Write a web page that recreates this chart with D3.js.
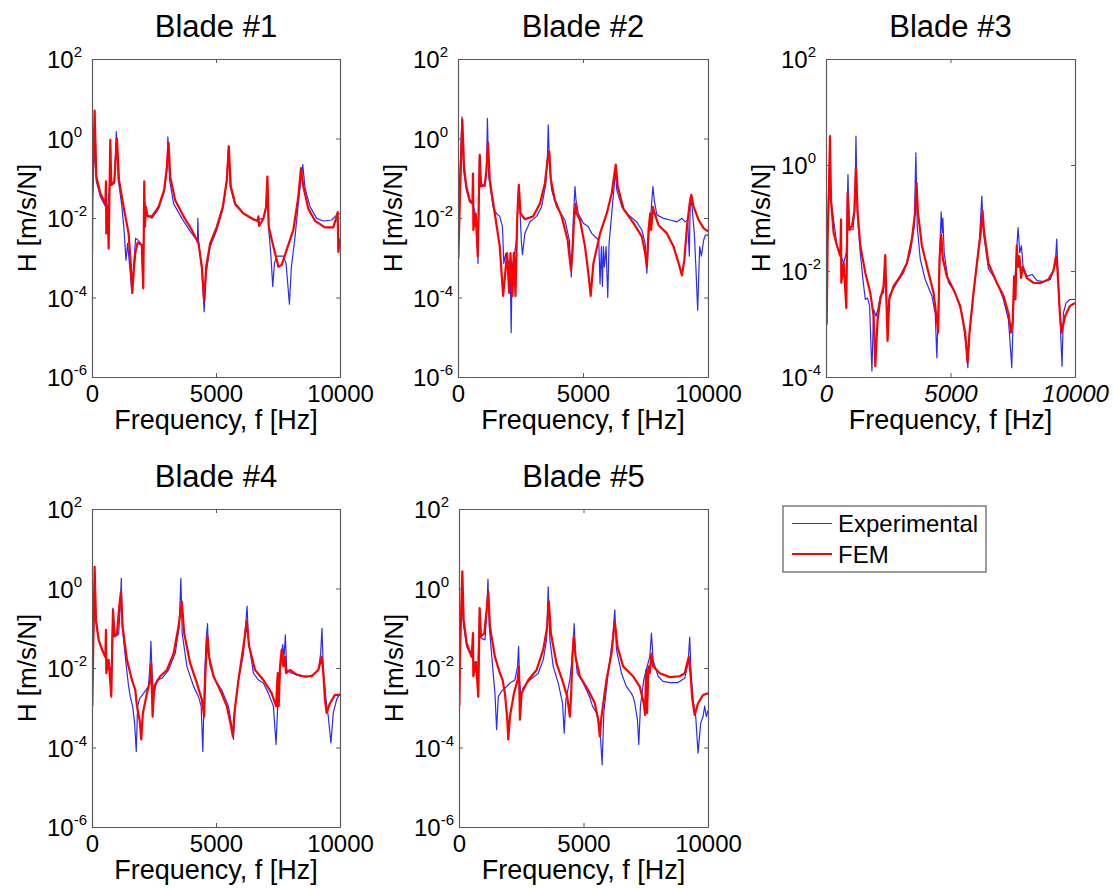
<!DOCTYPE html>
<html>
<head>
<meta charset="utf-8">
<script src="https://cdn.jsdelivr.net/npm/d3@7"></script>
<style>
body { margin: 0; background: #fff; }
svg { font-family: "Liberation Sans", Arial, Helvetica, sans-serif; }
</style>
</head>
<body>
<div id="chart"></div>
<script>
// ---- data: [frequency Hz, H m/s/N] ----
const bladeTitles = ["Blade #1", "Blade #2", "Blade #3", "Blade #4", "Blade #5"];
const seriesNames = ["Experimental", "FEM"];
const xTickValues = [0, 5000, 10000];
const yTickValues = [1e2, 1e0, 1e-2, 1e-4, 1e-6];
const yMinByBlade = [1e-6, 1e-6, 1e-4, 1e-6, 1e-6];

const blade1Exp = [[0,1.5e-2],[94,0.63],[174,8.3e-2],[335,3.5e-2],[550,1.9e-2],[604,1.3e-2],[711,6.2e-2],[752,0.19],[792,6.8e-2],[899,7.4e-2],[980,1.5],[1060,9.1e-2],[1208,1.9e-2],[1302,4.1e-3],[1369,8.7e-4],[1436,2.3e-3],[1543,4.1e-4],[1610,1.3e-4],[1678,5.9e-4],[1758,3.1e-3],[1879,2.7e-3],[2000,2.1e-3],[2053,1.9e-4],[2107,2.8e-2],[2214,1.2e-2],[2416,9.8e-3],[2684,1.7e-2],[2912,4.6e-2],[3020,0.16],[3060,1.1],[3128,9.1e-2],[3289,2.3e-2],[3624,9.8e-3],[3960,4.6e-3],[4161,3.1e-3],[4255,2.8e-3],[4268,9.8e-3],[4295,2.8e-3],[4429,4.9e-4],[4523,4.4e-5],[4603,4.1e-4],[4764,1.9e-3],[5033,5.0e-3],[5275,1.7e-2],[5436,8.3e-2],[5503,0.66],[5570,6.2e-2],[5772,2.1e-2],[6107,1.3e-2],[6510,8.9e-3],[6913,9.8e-3],[7020,1.9e-2],[7060,8.3e-2],[7127,5.0e-3],[7208,1.3e-3],[7289,1.9e-4],[7356,7.2e-4],[7450,1.1e-3],[7718,1.1e-3],[7825,7.2e-4],[7960,6.8e-5],[8040,5.9e-4],[8188,3.4e-3],[8349,3.5e-2],[8497,0.22],[8591,5.6e-2],[8792,1.9e-2],[9060,9.8e-3],[9329,8.4e-3],[9664,8.9e-3],[9866,1.2e-2],[10000,1.3e-2]];
const blade1Fem = [[0,1.3e-3],[13,2.8e-2],[107,5.0],[174,0.11],[335,4.2e-2],[537,2.3e-2],[564,8.3e-2],[577,4.1e-3],[631,1.9e-2],[671,1.7e-3],[738,0.93],[778,6.8e-2],[899,8.3e-2],[1007,1.0],[1087,9.1e-2],[1275,1.9e-2],[1476,4.1e-3],[1570,5.9e-4],[1624,1.3e-4],[1678,4.1e-4],[1745,1.3e-3],[1839,2.4e-3],[2013,2.1e-3],[2067,1.7e-4],[2107,8.3e-2],[2134,6.0e-3],[2174,1.9e-2],[2241,1.1e-2],[2416,1.1e-2],[2684,1.9e-2],[2912,5.1e-2],[3020,0.19],[3087,0.79],[3154,0.11],[3355,2.8e-2],[3691,1.1e-2],[4026,5.0e-3],[4294,2.3e-3],[4429,5.9e-4],[4523,8.5e-5],[4603,5.9e-4],[4764,2.3e-3],[5033,6.0e-3],[5275,1.9e-2],[5436,9.1e-2],[5517,0.63],[5597,6.2e-2],[5772,2.3e-2],[6107,1.3e-2],[6510,9.3e-3],[6685,8.4e-3],[6711,1.1e-2],[6738,6.3e-3],[6913,9.8e-3],[7020,1.9e-2],[7073,0.11],[7127,6.0e-3],[7315,1.9e-3],[7516,5.9e-4],[7650,6.6e-4],[7851,1.6e-3],[8119,5.0e-3],[8320,3.5e-2],[8428,0.18],[8522,6.2e-2],[8723,1.7e-2],[8992,8.5e-3],[9394,5.8e-3],[9732,5.8e-3],[9866,1.1e-2],[9906,1.4e-2],[9933,1.4e-3],[10000,3.1e-3]];

const blade2Exp = [[40,2.8e-2],[107,0.51],[160,3.5],[227,0.16],[334,5.1e-2],[468,2.5e-2],[602,2.3e-2],[682,1.3e-2],[762,4.1e-3],[802,7.2e-4],[856,0.35],[923,7.4e-2],[1070,6.2e-2],[1136,0.13],[1177,3.2],[1230,0.11],[1404,1.9e-2],[1538,1.3e-2],[1671,1.1e-2],[1778,6.0e-3],[1832,7.2e-4],[1912,1.3e-3],[1965,5.9e-4],[2046,8.7e-4],[2099,1.9e-4],[2126,1.3e-5],[2166,5.9e-4],[2246,1.1e-3],[2340,2.8e-3],[2420,5.1e-2],[2473,1.9e-2],[2540,2.3e-3],[2580,1.2e-3],[2674,4.1e-3],[2875,7.9e-3],[3142,1.1e-2],[3343,1.9e-2],[3516,7.4e-2],[3583,0.43],[3610,2.2],[3663,0.19],[3744,5.1e-2],[3944,1.9e-2],[4278,8.9e-3],[4452,2.8e-3],[4532,3.3e-4],[4613,8.9e-3],[4680,6.2e-2],[4720,2.8e-2],[4813,1.3e-2],[5014,7.4e-3],[5214,6.0e-3],[5348,4.1e-3],[5549,3.1e-3],[5629,2.8e-3],[5682,2.2e-4],[5736,1.9e-3],[5776,1.9e-4],[5816,1.9e-3],[5856,5.9e-4],[5923,1.9e-3],[5990,1.0e-4],[6043,2.3e-3],[6150,1.3e-2],[6244,6.2e-2],[6297,0.16],[6351,5.1e-2],[6551,1.9e-2],[6819,1.2e-2],[7153,7.9e-3],[7354,5.0e-3],[7487,2.3e-3],[7554,4.1e-4],[7634,4.1e-3],[7715,1.3e-2],[7795,6.2e-2],[7849,2.8e-2],[7955,1.2e-2],[8223,9.8e-3],[8490,8.9e-3],[8758,8.0e-3],[8959,9.8e-3],[9093,8.0e-3],[9186,8.9e-3],[9253,1.1e-3],[9293,3.4e-2],[9360,1.9e-2],[9453,4.1e-3],[9520,4.9e-4],[9587,4.8e-5],[9667,1.9e-3],[9734,1.1e-3],[9828,2.8e-3],[9894,3.7e-3],[10000,3.7e-3]];
const blade2Fem = [[13,9.5e-4],[94,7.4e-2],[174,3.0],[241,0.19],[334,6.2e-2],[468,2.8e-2],[575,2.3e-2],[602,0.13],[615,5.0e-3],[709,1.3e-2],[789,1.1e-3],[869,0.39],[923,6.2e-2],[1070,6.8e-2],[1136,0.16],[1203,0.79],[1270,9.1e-2],[1471,1.3e-2],[1671,1.9e-3],[1805,1.1e-4],[1912,5.9e-4],[1965,1.3e-3],[2046,1.3e-4],[2099,1.3e-3],[2179,1.1e-4],[2233,1.3e-3],[2300,1.1e-4],[2366,8.9e-3],[2433,6.8e-2],[2500,1.3e-2],[2674,9.3e-3],[3008,1.1e-2],[3276,2.3e-2],[3476,7.4e-2],[3583,0.29],[3650,0.47],[3717,9.1e-2],[3877,2.8e-2],[4145,1.1e-2],[4385,2.8e-3],[4519,4.9e-4],[4586,1.6e-3],[4639,8.9e-3],[4706,2.3e-2],[4746,1.3e-2],[4880,8.9e-3],[5081,1.9e-3],[5214,4.1e-4],[5308,1.1e-4],[5415,7.2e-4],[5682,4.1e-3],[5950,1.3e-2],[6150,4.2e-2],[6257,0.13],[6311,0.22],[6391,6.2e-2],[6618,1.7e-2],[7019,7.4e-3],[7354,3.4e-3],[7487,1.3e-3],[7554,5.9e-4],[7621,5.0e-3],[7688,1.3e-2],[7728,5.0e-3],[7795,1.9e-2],[7849,1.4e-2],[8022,6.6e-3],[8357,4.1e-3],[8624,1.9e-3],[8825,7.2e-4],[8959,3.6e-4],[9052,8.7e-4],[9159,6.0e-3],[9266,2.3e-2],[9333,3.8e-2],[9426,1.9e-2],[9627,8.9e-3],[9828,5.5e-3],[10000,4.6e-3]];

const blade3Exp = [[67,5.2e-2],[147,1.5],[200,0.22],[441,3.0e-2],[709,1.4e-2],[816,2.2e-2],[882,0.66],[936,6.0e-2],[1083,6.0e-2],[1163,0.17],[1203,3.5],[1257,0.13],[1377,2.2e-2],[1484,6.9e-3],[1578,2.9e-3],[1671,3.1e-3],[1751,2.2e-3],[1805,3.9e-4],[1845,1.3e-4],[1912,1.9e-3],[2005,1.4e-3],[2086,1.9e-3],[2179,3.4e-3],[2313,3.9e-3],[2366,1.4e-2],[2420,2.9e-3],[2473,1.2e-3],[2540,3.4e-3],[2848,6.0e-3],[3115,9.3e-3],[3383,2.2e-2],[3543,6.9e-2],[3610,1.7],[3663,6.9e-2],[3784,1.7e-2],[3984,6.9e-3],[4252,3.4e-3],[4385,1.6e-3],[4452,2.3e-4],[4519,2.9e-3],[4586,4.0e-2],[4626,0.13],[4666,5.3e-2],[4693,0.10],[4746,2.2e-2],[4920,6.0e-3],[5188,3.9e-3],[5455,1.6e-3],[5629,3.9e-4],[5696,1.5e-4],[5763,6.9e-4],[5990,6.9e-3],[6164,4.0e-2],[6257,0.26],[6324,5.3e-2],[6524,1.1e-2],[6725,7.9e-3],[6925,5.2e-3],[7126,2.9e-3],[7327,1.2e-3],[7420,2.9e-4],[7460,1.5e-4],[7541,2.9e-3],[7648,2.2e-2],[7715,6.6e-2],[7781,2.2e-2],[7848,3.0e-2],[7915,1.2e-2],[8075,7.9e-3],[8276,8.6e-3],[8476,6.6e-3],[8744,6.3e-3],[9011,6.9e-3],[9212,1.4e-2],[9266,4.0e-2],[9333,6.0e-3],[9400,1.2e-3],[9480,1.6e-4],[9533,1.6e-3],[9640,2.5e-3],[9800,2.9e-3],[10000,2.9e-3]];
const blade3Fem = [[27,9.8e-4],[67,4.0e-2],[120,0.40],[160,3.5],[200,0.22],[307,5.2e-2],[441,3.0e-2],[575,1.9e-2],[602,9.3e-2],[615,6.0e-3],[709,1.4e-2],[816,2.0e-3],[869,0.30],[936,6.0e-2],[1043,7.0e-2],[1136,0.13],[1203,0.89],[1270,0.13],[1377,3.0e-2],[1578,9.3e-3],[1778,3.9e-3],[1912,1.4e-3],[1979,1.6e-4],[2072,1.2e-3],[2179,2.9e-3],[2313,5.2e-3],[2380,2.0e-2],[2420,3.9e-3],[2473,4.8e-4],[2540,2.9e-3],[2714,5.2e-3],[2981,7.9e-3],[3249,1.4e-2],[3449,4.0e-2],[3583,0.13],[3637,0.46],[3690,0.13],[3851,3.0e-2],[4118,9.3e-3],[4319,3.9e-3],[4452,1.2e-3],[4506,6.9e-4],[4559,1.7e-2],[4626,4.9e-2],[4693,1.7e-2],[4853,7.9e-3],[5121,4.5e-3],[5388,2.2e-3],[5589,6.9e-4],[5682,1.9e-4],[5763,6.9e-4],[5923,3.9e-3],[6083,1.7e-2],[6217,5.3e-2],[6284,0.14],[6351,5.3e-2],[6524,1.4e-2],[6858,6.0e-3],[7126,3.4e-3],[7327,1.6e-3],[7434,6.9e-4],[7501,1.2e-3],[7554,7.9e-3],[7608,2.9e-3],[7661,3.0e-2],[7714,1.2e-2],[7768,1.9e-2],[7835,7.4e-3],[7901,1.2e-2],[8062,7.4e-3],[8329,6.0e-3],[8597,5.9e-3],[8931,6.9e-3],[9132,1.0e-2],[9239,1.9e-2],[9293,1.1e-2],[9400,1.4e-3],[9466,6.9e-4],[9600,1.4e-3],[9801,2.2e-3],[10000,2.5e-3]];

const blade4Exp = [[40,1.9e-2],[94,0.51],[148,0.16],[268,5.1e-2],[537,1.9e-2],[671,1.4e-2],[778,7.4e-3],[845,0.32],[913,6.2e-2],[1074,7.0e-2],[1141,0.36],[1181,1.8],[1221,0.11],[1382,1.1e-2],[1476,3.5e-3],[1543,1.9e-3],[1637,1.1e-3],[1718,4.1e-4],[1785,7.9e-5],[1839,1.1e-3],[1919,1.7e-3],[2080,2.3e-3],[2281,3.5e-3],[2349,1.6e-2],[2375,4.7e-2],[2416,8.9e-3],[2483,1.9e-3],[2617,5.0e-3],[2818,5.5e-3],[3087,8.9e-3],[3355,2.3e-2],[3516,0.11],[3583,1.8],[3637,7.5e-2],[3825,1.1e-2],[4093,3.5e-3],[4294,1.9e-3],[4402,1.1e-3],[4469,7.9e-5],[4536,5.0e-3],[4603,5.1e-2],[4657,0.13],[4697,2.9e-2],[4764,1.1e-2],[4966,5.0e-3],[5234,2.8e-3],[5502,1.1e-3],[5637,3.4e-4],[5704,1.6e-4],[5771,1.1e-3],[5905,5.0e-3],[6106,2.3e-2],[6254,0.36],[6307,5.1e-2],[6509,7.4e-3],[6710,5.0e-3],[6911,4.2e-3],[7113,2.3e-3],[7314,1.1e-3],[7421,1.2e-4],[7488,1.1e-3],[7582,7.4e-3],[7689,3.9e-2],[7743,1.9e-2],[7797,6.8e-2],[7851,8.9e-3],[8052,7.4e-3],[8388,6.3e-3],[8656,5.9e-3],[8924,6.8e-3],[9126,8.9e-3],[9220,2.3e-2],[9273,0.10],[9327,8.9e-3],[9435,1.6e-3],[9528,6.0e-4],[9635,1.3e-4],[9729,7.4e-4],[9864,1.6e-3],[10000,2.3e-3]];
const blade4Fem = [[13,1.1e-3],[54,5.1e-2],[107,3.5],[161,0.16],[268,5.1e-2],[403,2.9e-2],[537,1.9e-2],[564,9.1e-2],[577,7.4e-3],[671,1.6e-2],[778,1.9e-3],[845,0.29],[913,6.2e-2],[1007,7.5e-2],[1100,0.36],[1168,0.83],[1235,0.11],[1409,1.6e-2],[1610,5.0e-3],[1745,2.8e-3],[1812,1.1e-3],[1919,5.0e-4],[1986,1.6e-4],[2053,7.4e-4],[2214,2.3e-3],[2349,5.0e-3],[2389,1.3e-2],[2443,6.0e-4],[2510,3.5e-3],[2751,6.2e-3],[3020,8.9e-3],[3288,2.3e-2],[3489,0.11],[3623,0.47],[3717,7.5e-2],[3959,1.3e-2],[4227,4.2e-3],[4429,1.6e-3],[4523,6.0e-4],[4563,5.0e-3],[4603,1.9e-2],[4657,6.2e-2],[4724,1.9e-2],[4898,6.2e-3],[5167,2.8e-3],[5435,1.1e-3],[5610,3.4e-4],[5677,1.9e-4],[5744,7.4e-4],[5905,5.0e-3],[6106,3.5e-2],[6240,0.15],[6334,3.5e-2],[6576,8.9e-3],[6911,5.0e-3],[7247,2.3e-3],[7421,1.1e-3],[7488,7.4e-3],[7529,1.1e-3],[7582,1.1e-2],[7649,2.9e-2],[7716,1.1e-2],[7783,1.9e-2],[7824,7.4e-3],[7985,8.9e-3],[8253,6.8e-3],[8522,6.2e-3],[8857,6.2e-3],[9126,8.9e-3],[9260,1.9e-2],[9327,7.4e-3],[9394,1.6e-3],[9461,7.4e-4],[9595,1.3e-3],[9797,2.1e-3],[10000,2.1e-3]];

const blade5Exp = [[40,1.9e-2],[107,0.51],[174,0.13],[308,3.5e-2],[508,1.9e-2],[642,1.3e-2],[749,7.4e-3],[829,0.29],[882,5.6e-2],[1043,5.1e-2],[1110,0.24],[1163,1.7],[1217,0.11],[1350,1.1e-2],[1444,2.3e-3],[1511,2.8e-4],[1578,1.9e-3],[1711,2.6e-3],[1845,3.1e-3],[2046,4.2e-3],[2246,5.0e-3],[2353,1.1e-2],[2393,3.5e-2],[2433,5.0e-3],[2487,1.9e-3],[2580,3.2e-3],[2848,5.0e-3],[3182,7.4e-3],[3383,1.6e-2],[3516,5.1e-2],[3583,1.1],[3650,5.1e-2],[3784,1.1e-2],[3984,4.2e-3],[4158,1.3e-3],[4225,2.3e-4],[4292,1.6e-3],[4452,5.0e-3],[4559,2.3e-2],[4626,0.13],[4680,2.3e-2],[4746,7.4e-3],[4987,4.2e-3],[5254,1.8e-3],[5361,1.1e-3],[5522,7.4e-4],[5656,3.4e-4],[5749,3.7e-5],[5816,7.4e-4],[5990,7.4e-3],[6164,5.1e-2],[6257,0.29],[6324,2.9e-2],[6524,7.4e-3],[6725,3.4e-3],[6925,2.3e-3],[6993,1.9e-3],[7059,1.3e-3],[7166,5.0e-4],[7220,1.2e-4],[7287,1.1e-3],[7420,5.0e-3],[7554,1.1e-2],[7661,1.9e-2],[7728,7.5e-2],[7795,1.6e-2],[7995,6.2e-3],[8196,4.6e-3],[8463,4.3e-3],[8797,4.3e-3],[9065,5.5e-3],[9199,1.3e-2],[9266,6.0e-2],[9320,7.4e-3],[9400,1.6e-3],[9507,6.0e-4],[9600,7.2e-5],[9707,4.1e-4],[9800,6.0e-4],[9867,1.1e-3],[9933,6.0e-4],[10000,8.6e-4]];
const blade5Fem = [[13,1.1e-3],[53,5.1e-2],[134,2.7],[187,0.16],[308,4.2e-2],[508,1.9e-2],[562,7.5e-2],[575,6.2e-3],[682,1.4e-2],[775,1.9e-3],[829,0.32],[882,6.2e-2],[1016,7.5e-2],[1110,0.29],[1177,0.83],[1243,0.11],[1444,1.9e-2],[1644,7.4e-3],[1751,5.0e-3],[1845,2.3e-3],[1939,5.0e-4],[1979,1.6e-4],[2046,6.0e-4],[2206,2.3e-3],[2353,5.0e-3],[2407,1.1e-2],[2447,5.0e-4],[2514,2.3e-3],[2781,5.0e-3],[3115,8.9e-3],[3383,2.9e-2],[3543,0.11],[3610,0.47],[3690,7.5e-2],[3917,1.3e-2],[4185,4.2e-3],[4345,1.9e-3],[4452,6.0e-4],[4506,2.3e-3],[4559,2.3e-2],[4613,6.2e-2],[4680,1.9e-2],[4853,6.2e-3],[5188,2.8e-3],[5455,1.3e-3],[5589,5.0e-4],[5656,1.9e-4],[5722,6.0e-4],[5923,5.0e-3],[6124,2.3e-2],[6257,0.15],[6364,3.5e-2],[6591,1.1e-2],[6993,6.2e-3],[7260,3.4e-3],[7420,1.3e-3],[7473,6.6e-4],[7513,8.9e-3],[7554,7.4e-4],[7607,1.1e-2],[7661,7.4e-3],[7728,2.3e-2],[7795,1.1e-2],[8062,7.4e-3],[8463,5.9e-3],[8864,6.2e-3],[9065,7.4e-3],[9226,1.9e-2],[9293,7.4e-3],[9372,1.6e-3],[9466,6.6e-4],[9600,1.3e-3],[9800,2.1e-3],[10000,2.3e-3]];

const expSeries = [blade1Exp, blade2Exp, blade3Exp, blade4Exp, blade5Exp];
const femSeries = [blade1Fem, blade2Fem, blade3Fem, blade4Fem, blade5Fem];

// ---- layout ----
const W = 1113, H = 889;
const boxes = [
    {x: 92, y: 59, w: 248, h: 318},
    {x: 458, y: 59, w: 250, h: 318},
    {x: 826, y: 59, w: 249, h: 318},
    {x: 92, y: 509, w: 248, h: 318},
    {x: 459, y: 509, w: 249, h: 318}
];
const expColor = "#2a2aff", femColor = "#ff0000", frameColor = "#5a5a5a";

const svg = d3.select("#chart").append("svg")
    .attr("width", W)
    .attr("height", H)
    .style("background", "#fff");

bladeTitles.forEach((title, i) => {
    let b = boxes[i];
    let g = svg.append("g").attr("transform", "translate(" + b.x + "," + b.y + ")");

    let x = d3.scaleLinear().domain([0, 10000]).range([0, b.w]);
    let y = d3.scaleLog().domain([yMinByBlade[i], 1e2]).range([b.h, 0]);

    g.append("clipPath").attr("id", "clip" + i)
        .append("rect").attr("width", b.w).attr("height", b.h);

    let line = d3.line()
        .x(d => x(d[0]))
        .y(d => y(d[1]));

    let plot = g.append("g").attr("clip-path", "url(#clip" + i + ")");

    plot.append("path")
        .datum(expSeries[i])
        .attr("d", line)
        .attr("fill", "none")
        .attr("stroke", expColor)
        .attr("stroke-width", 1.2)
        .attr("stroke-linejoin", "round");

    plot.append("path")
        .datum(femSeries[i])
        .attr("d", line)
        .attr("fill", "none")
        .attr("stroke", femColor)
        .attr("stroke-width", 2.2)
        .attr("stroke-linejoin", "round");

    let yTicks = yTickValues.filter(v => v >= yMinByBlade[i]);

    // frame + inward ticks on all four sides
    let axes = [
        {ax: d3.axisBottom(x).tickValues(xTickValues), t: "translate(0," + b.h + ")"},
        {ax: d3.axisTop(x).tickValues(xTickValues), t: "translate(0,0)"},
        {ax: d3.axisLeft(y).tickValues(yTicks), t: "translate(0,0)"},
        {ax: d3.axisRight(y).tickValues(yTicks), t: "translate(" + b.w + ",0)"}
    ];
    axes.forEach((a, k) => {
        let ag = g.append("g").attr("transform", a.t)
            .call(a.ax.tickSizeInner(-4).tickSizeOuter(0).tickPadding(8)
                .tickFormat(k == 0 ? d3.format("d") : ""));
        ag.select(".domain").attr("stroke", frameColor).attr("stroke-width", 1.2);
        ag.selectAll(".tick line").attr("stroke", frameColor);
        ag.selectAll(".tick text")
            .attr("fill", "#000")
            .style("font-size", "24px")
            .style("font-style", (k == 0 && i == 2) ? "italic" : "normal")
            .attr("font-family", null);
    });

    // y tick labels as 10^n
    yTicks.forEach(v => {
        let t = g.append("text")
            .attr("x", -45)
            .attr("y", y(v) + 9)
            .style("font-size", "24px")
            .attr("fill", "#000")
            .text("10");
        t.append("tspan")
            .attr("dy", -11)
            .style("font-size", "15px")
            .text(String(Math.round(Math.log10(v))));
    });

    g.append("text")
        .attr("x", b.w / 2)
        .attr("y", -22)
        .attr("text-anchor", "middle")
        .style("font-size", "31px")
        .text(title);

    g.append("text")
        .attr("x", b.w / 2)
        .attr("y", b.h + 52)
        .attr("text-anchor", "middle")
        .style("font-size", "27px")
        .text("Frequency, f [Hz]");

    g.append("text")
        .attr("transform", "translate(-56," + (b.h / 2) + ") rotate(-90)")
        .attr("text-anchor", "middle")
        .style("font-size", "26px")
        .text("H [m/s/N]");
});

// legend
let legend = svg.append("g").attr("transform", "translate(783,506)");
legend.append("rect")
    .attr("width", 203).attr("height", 66)
    .attr("fill", "#fff").attr("stroke", frameColor).attr("stroke-width", 1.2);
seriesNames.forEach((name, k) => {
    let ly = 17.5 + k * 30.5;
    legend.append("line")
        .attr("x1", 9).attr("x2", 49).attr("y1", ly).attr("y2", ly)
        .attr("stroke", k == 0 ? expColor : femColor)
        .attr("stroke-width", k == 0 ? 1.2 : 2);
    legend.append("text")
        .attr("x", 55).attr("y", ly + 8.5)
        .style("font-size", "24px")
        .text(name);
});
</script>
</body>
</html>
